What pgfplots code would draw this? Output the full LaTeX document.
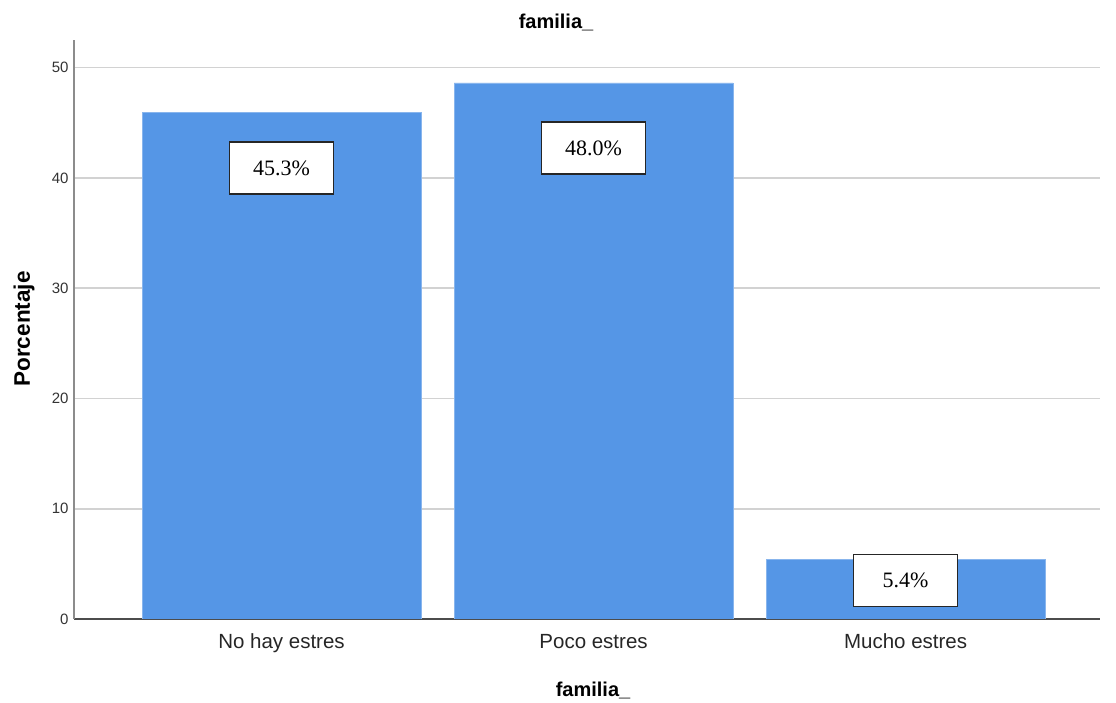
\documentclass[border=0pt]{standalone}
\usepackage{pgfplots}
\pgfplotsset{compat=1.18}
\usepackage{fontspec}
\setmainfont{Liberation Sans}
\newfontfamily\seriffont{Liberation Serif}
\definecolor{barblue}{RGB}{85,150,230}
\definecolor{gridgray}{RGB}{210,210,210}
\begin{document}
\begin{tikzpicture}[x=1pt,y=1pt]
\path[use as bounding box] (0,0) rectangle (1116,703);
\begin{axis}[
  at={(74pt,84pt)}, anchor=south west,
  scale only axis, width=1026pt, height=579pt,
  xmin=-0.665, xmax=2.623, ymin=0, ymax=52.5,
  axis x line*=bottom, axis y line*=left,
  x axis line style={draw=black!70, line width=1.5pt, -},
  y axis line style={draw=black!45, line width=2pt, -},
  xtick={0,1,2}, xticklabels={No hay estres, Poco estres, Mucho estres},
  ytick={0,10,20,30,40,50},
  major tick length=0pt,
  ymajorgrids, grid style={draw=gridgray, line width=1.8pt},
  /pgf/number format/assume math mode=true,
  yticklabel style={font=\fontsize{15}{15}\selectfont, text=black!80, xshift=-2pt},
  xticklabel style={font=\fontsize{20.5}{20.5}\selectfont, text=black!85, anchor=base, yshift=-30pt},
  ybar, bar width=279pt, bar shift=0pt,
]
\addplot[fill=barblue, draw=barblue!70!white, line width=0.8pt] coordinates {(0,45.9) (1,48.6) (2,5.4)};
\node[draw=black!85, line width=1.3pt, fill=white, minimum width=104pt, minimum height=52pt, inner sep=0pt, font=\seriffont\fontsize{22}{22}\selectfont] at (axis cs:0,40.9) {45.3\%};
\node[draw=black!85, line width=1.3pt, fill=white, minimum width=104pt, minimum height=52pt, inner sep=0pt, font=\seriffont\fontsize{22}{22}\selectfont] at (axis cs:1,42.7) {48.0\%};
\node[draw=black!85, line width=1.3pt, fill=white, minimum width=104pt, minimum height=52pt, inner sep=0pt, font=\seriffont\fontsize{22}{22}\selectfont] at (axis cs:2,3.5) {5.4\%};
\end{axis}
\node[font=\bfseries\fontsize{20}{20}\selectfont] at (556,681) {familia\_};
\node[font=\bfseries\fontsize{20}{20}\selectfont] at (593,13) {familia\_};
\node[font=\bfseries\fontsize{22.5}{22.5}\selectfont, rotate=90] at (24,374) {Porcentaje};
\end{tikzpicture}
\end{document}
